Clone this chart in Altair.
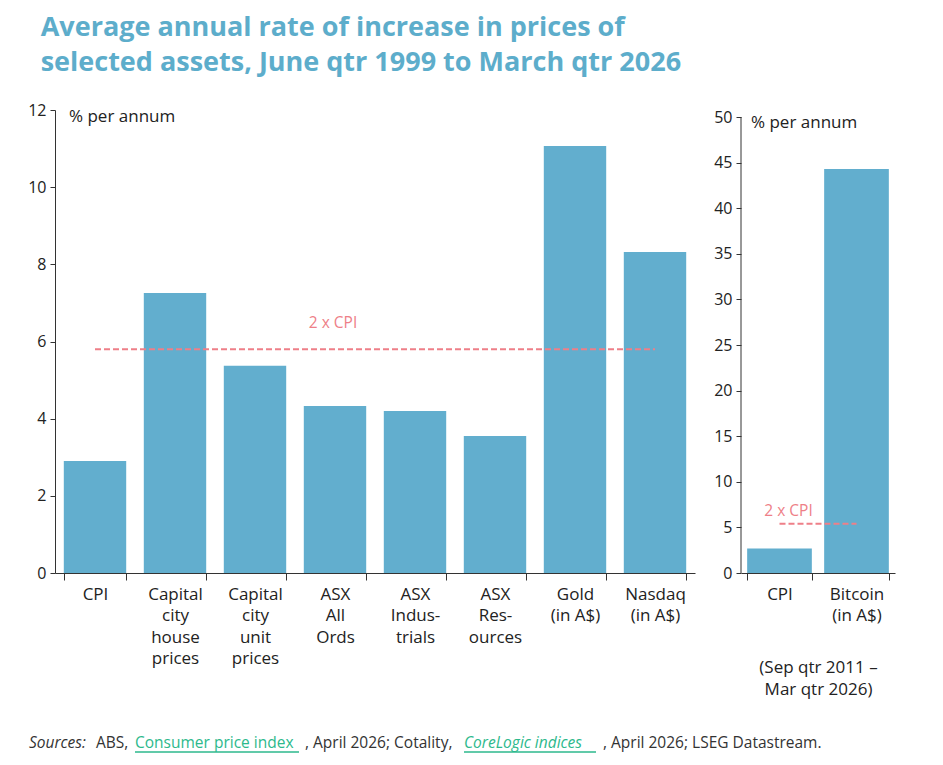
import altair as alt
import pandas as pd

# ---------------- data ----------------
left_cats = ["CPI", "Capital|city|house|prices", "Capital|city|unit|prices", "ASX|All|Ords",
             "ASX|Indus-|trials", "ASX|Res-|ources", "Gold|(in A$)", "Nasdaq|(in A$)"]
left_vals = [2.90, 7.26, 5.37, 4.33, 4.20, 3.55, 11.07, 8.32]
left_two_cpi = 5.80

right_cats = ["CPI", "Bitcoin|(in A$)"]
right_vals = [2.70, 44.3]
right_two_cpi = 5.40

left_ticks = [0, 2, 4, 6, 8, 10, 12]
right_ticks = [0, 5, 10, 15, 20, 25, 30, 35, 40, 45, 50]

title_lines = ["Average annual rate of increase in prices of",
               "selected assets, June qtr 1999 to March qtr 2026"]
unit_label = "% per annum"
ref_label = "2 x CPI"
right_note = ["(Sep qtr 2011 \u2013", "Mar qtr 2026)"]

src_text = ["Sources:", "ABS,", "Consumer price index", ", April 2026; Cotality,",
            "CoreLogic indices", ", April 2026; LSEG Datastream."]
src_style = ["italic", "normal", "normal", "normal", "italic", "normal"]
src_link = [False, False, True, False, True, False]

# ---------------- style ----------------
FONT = "Open Sans"
BAR = "#62AECE"
TITLE_C = "#5DADCB"
REF_C = "#EE7F88"
TXT = "#222222"
LINK = "#2DB98C"
AX = "#333333"

H = 463
left_df = pd.DataFrame({"cat": left_cats, "val": left_vals})
right_df = pd.DataFrame({"cat": right_cats, "val": right_vals})


def xaxis(title=None):
    kw = dict(labelAngle=0, labelExpr="split(datum.label, '|')", labelFontSize=17,
              labelLineHeight=21.5, labelColor=TXT, labelFont=FONT, tickBand="extent",
              tickSize=7, tickColor=AX, domainColor=AX, labelPadding=6,
              labelBaseline="top")
    if title is not None:
        kw.update(title=title, titleFontSize=17, titleFont=FONT, titleColor=TXT,
                  titleFontWeight="normal", titlePadding=36, titleLineHeight=22)
    else:
        kw.update(title=None)
    return alt.Axis(**kw)


def yaxis(vals, domain=True):
    return alt.Axis(values=vals, title=None, grid=False, labelFontSize=16, labelFont=FONT,
                    labelColor=TXT, tickSize=5, tickColor=AX, domainColor=AX,
                    labelPadding=4, domain=domain)


def panel(df, cats, ticks, ymax, two_cpi, ref_cat, dx, dy, xtitle=None, pad=0.22):
    xs = alt.Scale(domain=cats, paddingInner=pad, paddingOuter=pad / 2)
    ys = alt.Scale(domain=[0, ymax], nice=False)
    x = alt.X("cat:N", scale=xs, axis=xaxis(xtitle))
    y = alt.Y("val:Q", scale=ys, axis=yaxis(ticks, domain=(ymax == ticks[-1])))
    bars = alt.Chart(df).mark_bar(color=BAR).encode(x=x, y=y)
    rdf = pd.DataFrame({"cat": [cats[0]], "end": [cats[-1]], "val": [two_cpi],
                        "lab": [ref_cat], "t": [ref_label]})
    rule = alt.Chart(rdf).mark_rule(color=REF_C, strokeDash=[6, 3], strokeWidth=2).encode(
        x=alt.X("cat:N", scale=xs), x2="end:N", y="val:Q")
    txt = alt.Chart(rdf).mark_text(color=REF_C, fontSize=15.5, font=FONT, dx=dx, dy=dy).encode(
        x=alt.X("lab:N", scale=xs), y="val:Q", text="t:N")
    layers = [bars, rule, txt]
    if ymax != ticks[-1]:
        # y-axis line drawn only from 0 to the top tick
        layers.append(alt.Chart(pd.DataFrame({"t": [1]})).mark_rule(color=AX, strokeWidth=1).encode(
            x=alt.value(0), y=alt.datum(ticks[0], scale=ys), y2=alt.datum(ticks[-1])))
    return layers


def unit_text(xv, yv):
    return alt.Chart(pd.DataFrame({"t": [unit_label]})).mark_text(
        align="left", baseline="middle", fontSize=17, font=FONT, color=TXT).encode(
        x=alt.value(xv), y=alt.value(yv), text="t:N")


# left panel
left = alt.layer(*panel(left_df, left_cats, left_ticks, 12, left_two_cpi, left_cats[3], -2, -26),
                 unit_text(14, 7)).properties(width=640, height=H)

# right panel: same plot height, top tick (50) sits slightly lower than the left's 12
right = alt.layer(*panel(right_df, right_cats, right_ticks, 50.77, right_two_cpi, right_cats[0], 9, -13,
                         xtitle=right_note, pad=0.16),
                  unit_text(10, 13)).properties(width=154, height=H)

# sources line
src_x = [-26, 41, 80, 250, 409, 548]
src_layers = []
for t, st, lk, xv in zip(src_text, src_style, src_link, src_x):
    src_layers.append(alt.Chart(pd.DataFrame({"t": [t]})).mark_text(
        align="left", baseline="middle", fontSize=15.5, font=FONT, fontStyle=st,
        color=LINK if lk else "#333333").encode(x=alt.value(xv), y=alt.value(10), text="t:N"))
for a, b in [(80, 244), (409, 541)]:
    src_layers.append(alt.Chart(pd.DataFrame({"t": [1]})).mark_rule(
        color=LINK, strokeWidth=1.5).encode(x=alt.value(a), x2=alt.value(b), y=alt.value(19)))
sources = alt.layer(*src_layers).properties(width=780, height=20)

top = alt.hconcat(left, right, spacing=18)
chart = alt.vconcat(top, sources, spacing=35).properties(
    title=alt.TitleParams(title_lines, anchor="start", fontSize=27, font=FONT, fontWeight="bold",
                          color=TITLE_C, lineHeight=35, dx=13, offset=25),
    padding={"left": 19, "top": 6, "right": 5, "bottom": 5},
).configure(font=FONT).configure_view(stroke=None)

chart.save("out.html", embed_options={"renderer": "svg", "actions": False})
